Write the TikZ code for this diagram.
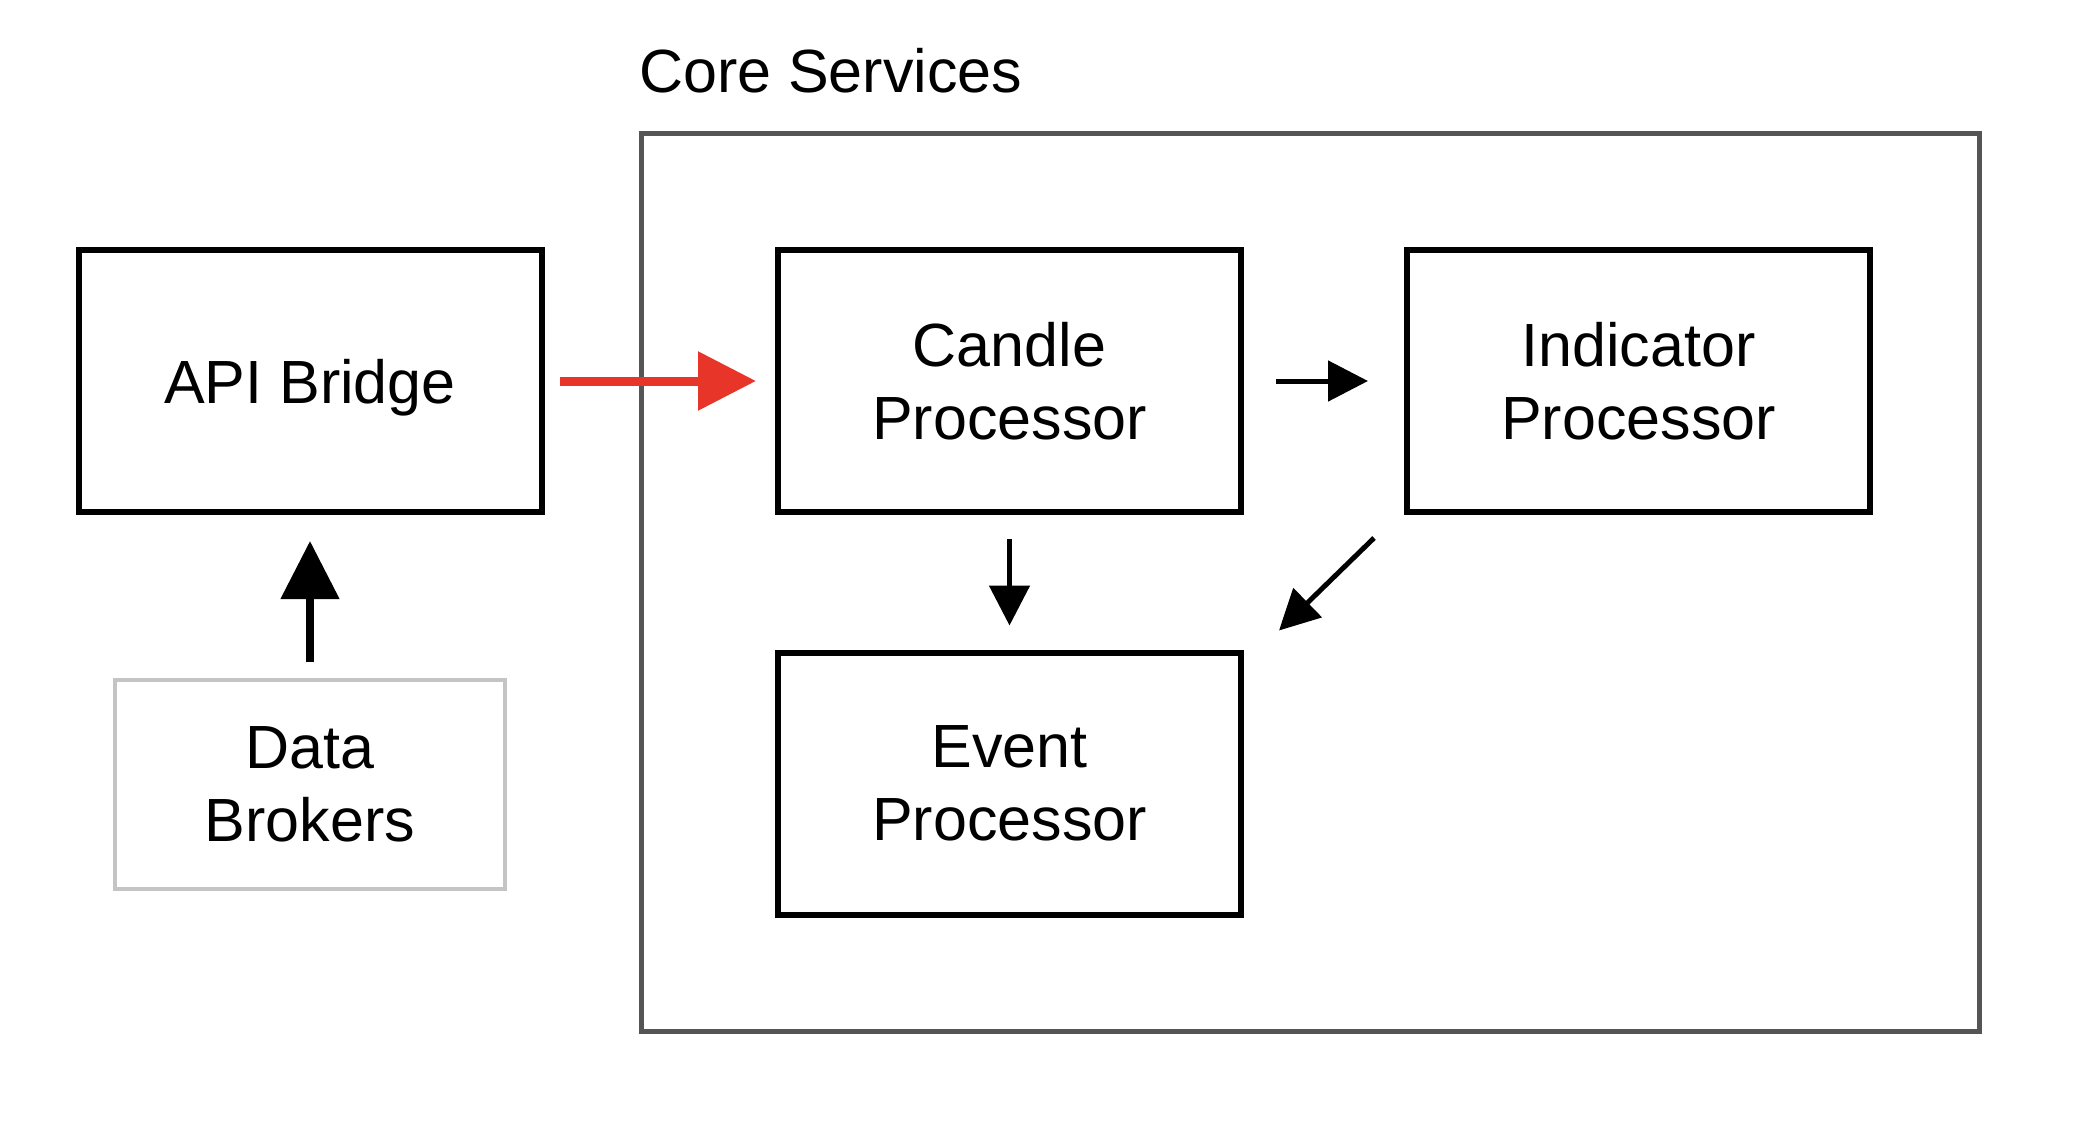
\documentclass[tikz,border=0pt]{standalone}
\usepackage{fontspec}
\setmainfont{Liberation Sans}
\usetikzlibrary{arrows.meta,calc}
\definecolor{redarrow}{HTML}{E8352A}
\definecolor{coregray}{HTML}{555555}
\definecolor{lightgray}{HTML}{C4C4C4}
\begin{document}
\begin{tikzpicture}[x=1pt,y=-1pt,
  boxtext/.style={font=\fontsize{61}{73}\selectfont, align=center, text=black},
  procbox/.style={boxtext, draw=black, line width=6pt, minimum width=463pt, minimum height=262pt, inner sep=0pt},
  extbox/.style={boxtext, draw=lightgray, line width=4pt, minimum width=390pt, minimum height=209pt, inner sep=0pt},
  bigarrow/.style={line width=9pt, -{Triangle[length=58pt,width=57pt]}},
  smallarrow/.style={line width=5pt, -{Triangle[length=40pt,width=40pt]}}
]
\useasboundingbox (0,0) rectangle (2074,1142);
\node[draw=coregray, line width=5pt, minimum width=1338pt, minimum height=898pt, inner sep=0pt] (core) at (1310.5,582.5) {};
\node[boxtext, anchor=base west, inner sep=0pt] (coretitle) at (639,93) {Core Services};
\node[procbox, text depth=0pt] (api) at (310,381) {API Bridge};
\node[procbox] (candle) at (1009.5,381) {Candle\\Processor};
\node[procbox] (ind) at (1638.5,381) {Indicator\\Processor};
\node[procbox] (event) at (1009.5,783.5) {Event\\Processor};
\node[extbox] (data) at (310,784.5) {Data\\Brokers};
\draw[bigarrow, draw=redarrow, fill=redarrow, shorten <=15pt, shorten >=19pt] (api) -- (candle);
\draw[bigarrow, line width=8pt, shorten <=16pt, shorten >=26pt] (data) -- (api);
\draw[smallarrow, shorten <=32pt, shorten >=36pt] (candle) -- (ind);
\draw[smallarrow, shorten <=24pt, shorten >=24pt] (candle) -- (event);
\draw[smallarrow] ($(ind.south west)+(-30,23)$) -- ($(event.north east)+(35,-19)$);
\end{tikzpicture}
\end{document}
